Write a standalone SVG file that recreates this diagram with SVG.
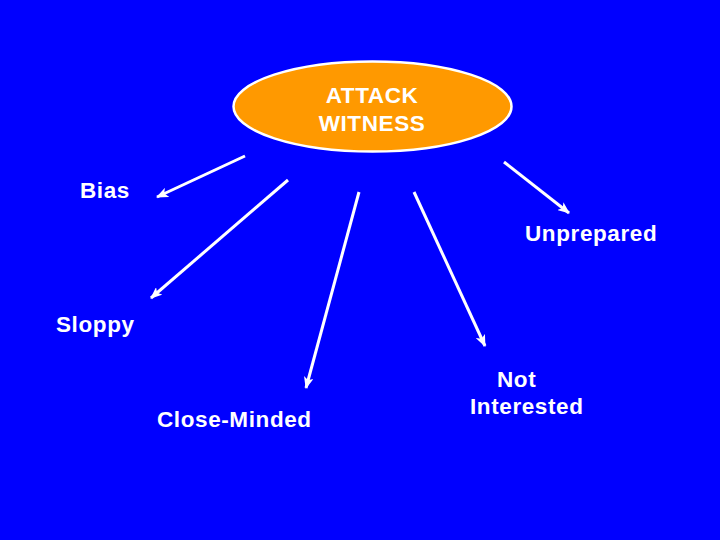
<svg xmlns="http://www.w3.org/2000/svg" width="720" height="540" viewBox="0 0 720 540">
<defs>
<style>
.lbl{font-family:"Liberation Sans",Arial,sans-serif;font-weight:bold;font-size:22.5px;fill:#fff;letter-spacing:0.6px}
.c{text-anchor:middle}
.arr{stroke:#fff;stroke-width:3;fill:none;marker-end:url(#ah)}
</style>
<marker id="ah" markerUnits="userSpaceOnUse" markerWidth="12" markerHeight="10" viewBox="0 0 12 10" refX="11" refY="5" orient="auto">
<path d="M0,0 L12,5 L0,10 L3,5 Z" fill="#fff"/>
</marker>
</defs>
<rect width="720" height="540" fill="#0000FF"/>
<g id="attack-witness">
<ellipse cx="372.5" cy="106.5" rx="139" ry="45" fill="#FF9900" stroke="#fff" stroke-width="2.5"/>
<text class="lbl c" x="372" y="103">ATTACK</text>
<text class="lbl c" x="372" y="131">WITNESS</text>
</g>
<g id="bias"><text class="lbl" x="80" y="198">Bias</text></g>
<g id="unprepared"><text class="lbl" x="525" y="241">Unprepared</text></g>
<g id="sloppy"><text class="lbl" x="56" y="332">Sloppy</text></g>
<g id="close-minded"><text class="lbl" x="157" y="427">Close-Minded</text></g>
<g id="not-interested"><text class="lbl" x="497" y="387">Not</text><text class="lbl" x="470" y="414">Interested</text></g>
<g id="connectors">
<line class="arr" x1="245" y1="156" x2="157" y2="197"/>
<line class="arr" x1="288" y1="180" x2="151" y2="298"/>
<line class="arr" x1="359" y1="192" x2="306" y2="388"/>
<line class="arr" x1="414" y1="192" x2="485" y2="346"/>
<line class="arr" x1="504" y1="162" x2="569" y2="213"/>
</g>
</svg>
